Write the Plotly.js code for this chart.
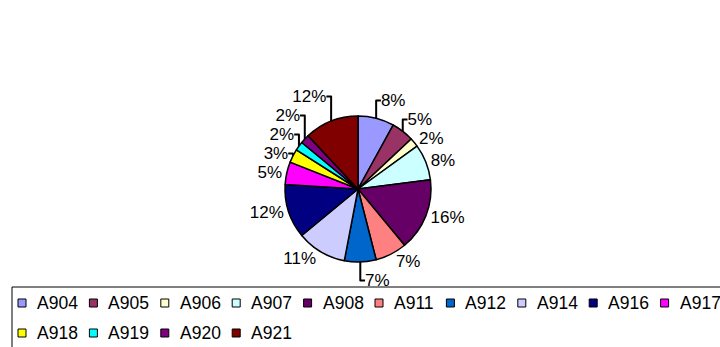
<!DOCTYPE html>
<html>
<head>
<meta charset="utf-8">
<script src="https://cdn.plot.ly/plotly-3.0.1.min.js"></script>
<style>html,body{margin:0;padding:0;background:#fff;}#chart{width:720px;height:347px;}</style>
</head>
<body>
<div id="chart"></div>
<script>
const categories = ["A904","A905","A906","A907","A908","A911","A912","A914","A916","A917","A918","A919","A920","A921"];
const shares = [8,5,2,8,16,7,7,11,12,5,3,2,2,12];
const colors = ["#9999FF","#993366","#FFFFCC","#CCFFFF","#660066","#FF8080","#0066CC","#CCCCFF","#000080","#FF00FF","#FFFF00","#00FFFF","#800080","#800000"];

const W = 720, H = 347;
const FONT = "Liberation Sans, Arial, sans-serif";

const trace = {
  type: "pie",
  labels: categories,
  values: shares,
  sort: false,
  direction: "clockwise",
  rotation: 0,
  marker: {colors: colors, line: {color: "#000", width: 1.5}},
  textposition: "outside",
  texttemplate: "%{percent:.0%}",
  outsidetextfont: {family: FONT, size: 17, color: "#000"},
  textfont: {family: FONT, size: 17, color: "#000"},
  hoverinfo: "label+percent",
  domain: {x: [285 / W, 431 / W], y: [1 - 262 / H, 1 - 116 / H]},
  automargin: false,
  showlegend: false
};

// Custom Excel-style legend built from the category/colour arrays
const shapes = [];
const annotations = [];
const legLeft = 12, legTop = 287, perRow = 10, step = 71.4, rowH = 30, firstRowY = 303, sq = 8;
shapes.push({type: "rect", xref: "paper", yref: "paper",
  x0: legLeft / W, x1: (W + 20) / W, y0: 1 - legTop / H, y1: 1 - (H + 20) / H,
  line: {color: "#000", width: 1}, fillcolor: "rgba(0,0,0,0)"});
categories.forEach((name, i) => {
  const col = i % perRow, row = Math.floor(i / perRow);
  const x = 18 + col * step;
  const yc = firstRowY + row * rowH;
  shapes.push({type: "rect", xref: "paper", yref: "paper",
    x0: x / W, x1: (x + sq) / W, y0: 1 - (yc - sq / 2) / H, y1: 1 - (yc + sq / 2) / H,
    line: {color: "#000", width: 1}, fillcolor: colors[i]});
  annotations.push({xref: "paper", yref: "paper", x: (x + 17) / W, y: 1 - yc / H,
    xanchor: "left", yanchor: "middle", showarrow: false, text: name,
    font: {family: FONT, size: 17.5, color: "#000"}});
});

const layout = {
  width: W, height: H,
  margin: {l: 0, r: 0, t: 0, b: 0},
  paper_bgcolor: "#fff",
  showlegend: false,
  font: {family: FONT},
  shapes: shapes,
  annotations: annotations
};

Plotly.newPlot("chart", [trace], layout, {displayModeBar: false, staticPlot: true});
</script>
</body>
</html>
